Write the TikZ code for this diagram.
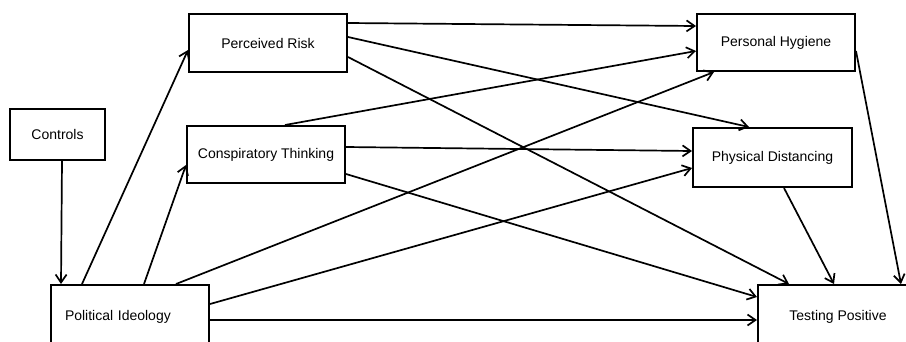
\documentclass[tikz,border=0pt]{standalone}
\usepackage{fontspec}
\setmainfont{Liberation Sans}
\usetikzlibrary{arrows.meta}
\begin{document}
\begin{tikzpicture}
      [x=1pt,y=-1pt,
       every node/.style={draw, rectangle, line width=2pt, inner sep=0pt, font=\fontsize{14}{16}\selectfont},
       conn/.style={line width=1.7pt, -{Straight Barb[length=8pt,width=11pt]}}]
    \useasboundingbox (0,0) rectangle (906,341);

    \node (ctrl) at (57.5,134.5) [minimum width=95pt, minimum height=51pt] {Controls};
    \node (pi) at (130,317) [text width=130pt, inner xsep=14pt, align=left, minimum height=64pt] {Political Ideology};
    \node (pr) at (268,43) [minimum width=158pt, minimum height=58pt] {Perceived Risk};
    \node (ct) at (266,154.5) [minimum width=158pt, minimum height=57pt] {Conspiratory Thinking};
    \node (ph) at (776,42.5) [minimum width=158pt, minimum height=57pt] {Personal Hygiene};
    \node (pd) at (772.5,157.5) [minimum width=159pt, minimum height=59pt] {Physical Distancing};
    \node (tp) at (838,317) [minimum width=160pt, minimum height=64pt] {Testing Positive};

    \draw[conn] ([xshift=4.5pt]ctrl.south) -- ([xshift=11pt]pi.north west);

    \draw[conn] ([xshift=32pt]pi.north west) -- ([yshift=-7pt]pr.west);
    \draw[conn] ([xshift=94pt]pi.north west) -- ([yshift=-10.5pt]ct.west);
    \draw[conn] ([xshift=126pt]pi.north west) -- ([xshift=18pt]ph.south west);
    \draw[conn] ([yshift=-20pt]pi.north east) -- ([yshift=-10.5pt]pd.west);
    \draw[conn] ([yshift=-36pt]pi.north east) -- ([yshift=-36pt]tp.north west);

    \draw[conn] ([yshift=-10pt]pr.north east) -- ([yshift=-13pt]ph.north west);
    \draw[conn] ([yshift=-24pt]pr.north east) -- ([xshift=57pt]pd.north west);
    \draw[conn] ([yshift=-44pt]pr.north east) -- ([xshift=32pt]tp.north west);

    \draw[conn] ([xshift=19pt]ct.north) -- ([yshift=-38pt]ph.north west);
    \draw[conn] ([yshift=-22pt]ct.north east) -- ([yshift=-24pt]pd.north west);
    \draw[conn] ([yshift=-49pt]ct.north east) -- ([yshift=-13pt]tp.north west);

    \draw[conn] ([xshift=92pt]pd.south west) -- ([xshift=77pt]tp.north west);
    \draw[conn] ([yshift=-38pt]ph.north east) -- ([xshift=144pt]tp.north west);
  \end{tikzpicture}
\end{document}
